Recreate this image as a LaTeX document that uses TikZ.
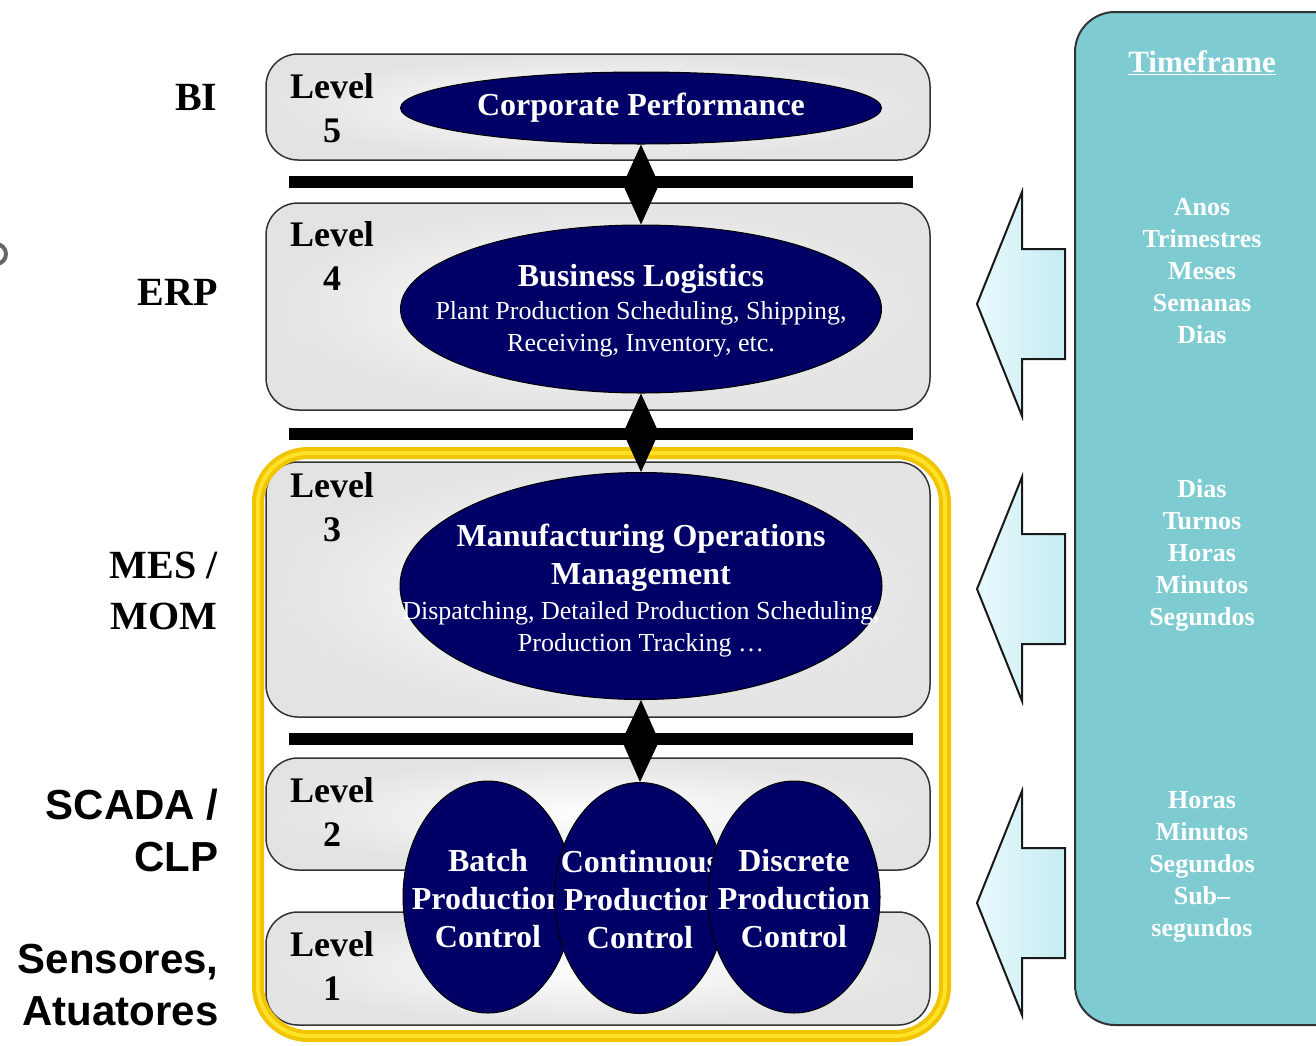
\documentclass[tikz,border=0pt]{standalone}
\usepackage{fontspec}
\setmainfont{Liberation Serif}
\newfontfamily\arialfont{Liberation Sans}
\usetikzlibrary{arrows,shapes,shapes.geometric,positioning}
\usetikzlibrary{arrows.meta}
\definecolor{navy}{RGB}{0,0,102}
\definecolor{teal}{RGB}{126,203,210}
\definecolor{gold}{RGB}{240,196,0}
\definecolor{goldlight}{RGB}{255,226,40}
\definecolor{icecyan}{RGB}{232,249,252}
\definecolor{icecyandark}{RGB}{198,236,242}
\tikzstyle{levelbox}=[draw=black!80, line width=1.5pt, rounded corners=32pt, inner color=white, outer color=black!11]
\tikzstyle{leveltext}=[align=center, font=\bfseries\fontsize{36}{44}\selectfont]
\tikzstyle{sidetext}=[anchor=east, align=right, font=\bfseries\fontsize{40}{51}\selectfont]
\tikzstyle{sanstext}=[anchor=east, align=right, font=\arialfont\bfseries\fontsize{42}{52}\selectfont]
\tikzstyle{blueellipse}=[draw, ellipse, fill=navy, line width=1pt, inner sep=0pt]
\tikzstyle{ellipsetitle}=[text=white, align=center, font=\bfseries\fontsize{32}{38}\selectfont]
\tikzstyle{ellipsesub}=[text=white, align=center, font=\fontsize{26}{32}\selectfont]
\tikzstyle{levelLink}=[line width=1pt, {Triangle[length=40pt,width=36pt]}-{Triangle[length=40pt,width=36pt]}]
\tikzstyle{timeArrow}=[draw=black!90, line width=2pt, line join=miter, left color=icecyan, right color=icecyandark]
\tikzstyle{timetext}=[text=white, align=center, font=\bfseries\fontsize{26}{32}\selectfont]

\begin{document}
\begin{tikzpicture}[x=1pt, y=-1pt]
    \useasboundingbox (0,0) rectangle (1316,1045);
    \fill[white] (0,0) rectangle (1316,1045);

    % level boxes
    \foreach \n/\top/\bot in {5/54/160, 4/203/410, 3/462/717, 2/758/870, 1/912/1025}
        \draw[levelbox] (266,\top) rectangle (930,\bot);
    \foreach \n/\y in {5/108, 4/256, 3/507, 2/812, 1/966}
        \node[leveltext] (lv\n) at (332,\y) {Level\\\n};

    % MES frame
    \draw[gold, line width=12pt, rounded corners=50pt] (258,453) rectangle (945,1036);
    \draw[goldlight, line width=4pt, rounded corners=50pt] (258,453) rectangle (945,1036);

    % bars
    \foreach \y in {182,434,739}
        \fill[black] (289,\y-6) rectangle (913,\y+6);

    % side labels
    \node[sidetext] (bi) at (221,97) {BI};
    \node[sidetext] (erp) at (221,292) {ERP};
    \node[sidetext] (mes) at (221,591) {MES /\\MOM};
    \node[sanstext] (scada) at (222,830) {SCADA /\\CLP};
    \node[sanstext] (sensors) at (222,985) {Sensores,\\Atuatores};
    \draw[black!60, line width=4pt] (-4,254) circle (10);

    % ellipses
    \node[blueellipse, minimum width=481pt, minimum height=72pt] (perf) at (641,108) {};
    \node[ellipsetitle] (perfT) at (perf) {Corporate Performance};

    \node[blueellipse, minimum width=481pt, minimum height=168pt] (logi) at (641,309) {};
    \node[ellipsetitle] (logiT) at (641,279) {Business Logistics};
    \node[ellipsesub] (logiS) at (641,329) {Plant Production Scheduling, Shipping,\\Receiving, Inventory, etc.};

    \node[blueellipse, minimum width=482pt, minimum height=227pt] (mom) at (641,586) {};
    \node[ellipsetitle] (momT) at (641,558) {Manufacturing Operations\\Management};
    \node[ellipsesub] (momS) at (641,629) {Dispatching, Detailed Production Scheduling,\\Production Tracking \dots};

    \node[blueellipse, minimum width=170pt, minimum height=232pt] (batch) at (488,897) {};
    \node[ellipsetitle] (batchT) at (488,899) {Batch\\Production\\Control};
    \node[blueellipse, minimum width=171pt, minimum height=231pt] (cont) at (640,898) {};
    \node[ellipsetitle] (contT) at (640,900) {Continuous\\Production\\Control};
    \node[blueellipse, minimum width=172pt, minimum height=232pt] (disc) at (794,897) {};
    \node[ellipsetitle] (discT) at (794,899) {Discrete\\Production\\Control};

    % links
    \draw[levelLink] (perf.south) -- (logi.north);
    \draw[levelLink] (logi.south) -- (mom.north);
    \draw[levelLink] (mom.south) -- (cont.north);

    % timeframe panel
    \draw[draw=black!80, line width=2pt, fill=teal, rounded corners=40pt] (1075,12) rectangle (1400,1025);
    \node[timetext, font=\bfseries\fontsize{31}{36}\selectfont] (tf) at (1202,63) {\underline{Timeframe}};
    \node[timetext] (tf5) at (1202,271) {Anos\\Trimestres\\Meses\\Semanas\\Dias};
    \node[timetext] (tf3) at (1202,555) {Dias\\Turnos\\Horas\\Minutos\\Segundos};
    \node[timetext] (tf2) at (1202,867) {Horas\\Minutos\\Segundos\\Sub--\\segundos};

    % arrows
    \foreach \c in {304,589,903}
        \draw[timeArrow] (977,\c) -- (1022,\c-112) -- (1022,\c-55) -- (1065,\c-55)
            -- (1065,\c+55) -- (1022,\c+55) -- (1022,\c+112) -- cycle;

\end{tikzpicture}
\end{document}
